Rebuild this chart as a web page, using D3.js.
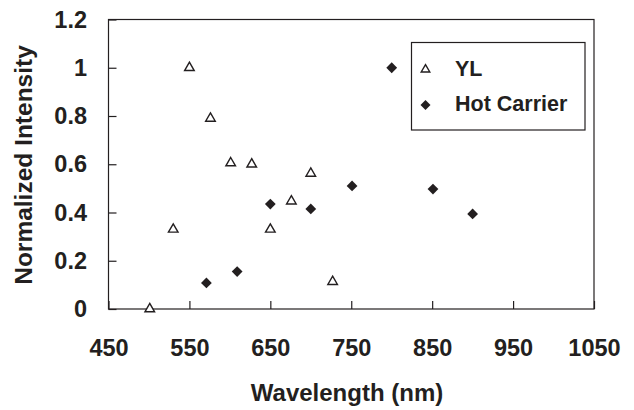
<!DOCTYPE html>
<html>
<head>
<meta charset="utf-8">
<script src="https://cdn.jsdelivr.net/npm/d3@7"></script>
<style>
  html, body { margin: 0; padding: 0; background: #fff; }
  svg { display: block; font-family: "Liberation Sans", Arial, sans-serif; font-weight: bold; }
  .tick text { fill: #231f20; font-size: 23.5px; font-family: "Liberation Sans", Arial, sans-serif; font-weight: bold; }
  .tick line { stroke: #231f20; stroke-width: 1.2; }
</style>
</head>
<body>
<svg id="chart" width="634" height="410"></svg>
<script>
(function () {
  "use strict";

  // --- Data ---
  const ylWavelength = [501, 530, 550, 576, 601, 627, 650, 676, 700, 727];
  const ylIntensity  = [0.0, 0.33, 1.0, 0.79, 0.605, 0.60, 0.33, 0.447, 0.562, 0.113];
  const hcWavelength = [571, 609, 650, 700, 751, 800, 851, 900];
  const hcIntensity  = [0.108, 0.155, 0.435, 0.415, 0.51, 1.0, 0.497, 0.394];
  const xTicks = [450, 550, 650, 750, 850, 950, 1050];
  const yTicks = [0, 0.2, 0.4, 0.6, 0.8, 1, 1.2];
  const seriesNames = ["YL", "Hot Carrier"];

  // --- Setup ---
  const svg = d3.select("#chart");
  const margin = { top: 19.5, right: 40, bottom: 101, left: 108.5 };
  const W = 634, H = 410;
  const iw = W - margin.left - margin.right;
  const ih = H - margin.top - margin.bottom;
  const ink = "#231f20";

  const x = d3.scaleLinear().domain([450, 1050]).range([0, iw]);
  const y = d3.scaleLinear().domain([0, 1.2]).range([ih, 0]);

  const g = svg.append("g").attr("transform", `translate(${margin.left},${margin.top})`);

  // Axes (ticks point inward)
  g.append("g")
    .attr("transform", `translate(0,${ih})`)
    .call(d3.axisBottom(x).tickValues(xTicks).tickFormat(d => String(d))
      .tickSizeInner(-8).tickSizeOuter(0).tickPadding(30.5))
    .call(a => a.select(".domain").remove());

  g.append("g")
    .call(d3.axisLeft(y).tickValues(yTicks).tickFormat(d3.format("~g"))
      .tickSizeInner(-8).tickSizeOuter(0).tickPadding(21.5))
    .call(a => a.select(".domain").remove());

  // Plot frame
  g.append("rect")
    .attr("width", iw).attr("height", ih)
    .attr("fill", "none").attr("stroke", ink).attr("stroke-width", 1.2);

  // --- Markers ---
  const tri = d3.symbol(d3.symbolTriangle, 40);
  const dia = d3.symbol(d3.symbolSquare, 58);

  g.append("g").selectAll("path")
    .data(ylWavelength.map((w, i) => [w, ylIntensity[i]]))
    .join("path")
    .attr("d", tri)
    .attr("transform", d => `translate(${x(d[0])},${y(d[1])})`)
    .attr("fill", "#fff").attr("stroke", ink).attr("stroke-width", 1.4);

  g.append("g").selectAll("path")
    .data(hcWavelength.map((w, i) => [w, hcIntensity[i]]))
    .join("path")
    .attr("d", dia)
    .attr("transform", d => `translate(${x(d[0])},${y(d[1])}) rotate(45)`)
    .attr("fill", ink);

  // --- Legend ---
  const lg = svg.append("g").attr("transform", "translate(411.5,42.5)");
  lg.append("rect").attr("width", 173.5).attr("height", 87.5)
    .attr("fill", "#fff").attr("stroke", ink).attr("stroke-width", 1.2);
  lg.append("path").attr("d", d3.symbol(d3.symbolTriangle, 32))
    .attr("transform", "translate(14,27)")
    .attr("fill", "#fff").attr("stroke", ink).attr("stroke-width", 1.4);
  lg.append("path").attr("d", d3.symbol(d3.symbolSquare, 50))
    .attr("transform", "translate(14,62.5) rotate(45)")
    .attr("fill", ink);
  lg.selectAll("text.lab")
    .data(seriesNames)
    .join("text")
    .attr("class", "lab")
    .attr("x", 43.5)
    .attr("y", (d, i) => 33 + i * 35.5)
    .attr("fill", ink)
    .style("font-size", "21.5px")
    .text(d => d);

  // --- Axis titles ---
  svg.append("text")
    .attr("x", 347).attr("y", 401)
    .attr("text-anchor", "middle")
    .attr("fill", ink)
    .style("font-size", "24px")
    .text("Wavelength (nm)");

  svg.append("text")
    .attr("transform", "translate(32,165) rotate(-90)")
    .attr("text-anchor", "middle")
    .attr("fill", ink)
    .style("font-size", "24.5px")
    .text("Normalized Intensity");
})();
</script>
</body>
</html>
